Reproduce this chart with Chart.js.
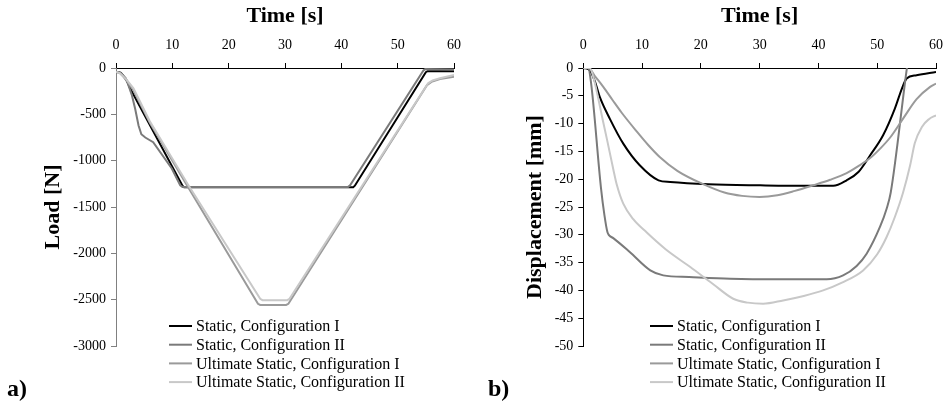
<!DOCTYPE html>
<html>
<head>
<meta charset="utf-8">
<script src="https://cdn.jsdelivr.net/npm/chart.js@4.4.1/dist/chart.umd.min.js"></script>
<style>
  body { margin: 0; background: #fff; }
  #wrap { position: relative; width: 943px; height: 403px; background: #fff; overflow: hidden; }
  .panel { position: absolute; top: 0; }
  .tag { position: absolute; font: bold 24px "Liberation Serif", "Times New Roman", serif; line-height: 24px; color: #000; }
</style>
</head>
<body>
<div id="wrap">
  <div class="panel" style="left:0"><canvas id="loadChart" width="470" height="403"></canvas></div>
  <div class="panel" style="left:470px"><canvas id="dispChart" width="473" height="403"></canvas></div>
  <div class="tag" style="left:7px; top:376px">a)</div>
  <div class="tag" style="left:488px; top:376px">b)</div>
</div>
<script>
// series names (same for both panels)
const seriesNames = [
  "Static, Configuration I",
  "Static, Configuration II",
  "Ultimate Static, Configuration I",
  "Ultimate Static, Configuration II"
];

// panel a) load [N] vs time [s]
const timeS1Load = [0, 0.8, 1.7, 2.6, 11.8, 12.1, 42.1, 42.4, 55.0, 55.3, 60];
const loadS1 = [-40, -50, -110, -230, -1270, -1288, -1288, -1270, -45, -35, -35];
const timeS2Load = [0, 1.0, 2.0, 2.8, 3.4, 4.0, 4.5, 5.2, 6.6, 9.9, 11.4, 11.8, 41.2, 41.5, 54.6, 54.9, 60];
const loadS2 = [-40, -60, -150, -290, -440, -620, -715, -750, -800, -1085, -1265, -1283, -1283, -1270, -25, -12, -15];
const timeU1Load = [0, 0.7, 1.8, 3.0, 6.0, 12.7, 25.2, 25.6, 30.2, 30.6, 55.2, 56.0, 57.5, 60];
const loadU1 = [-40, -55, -125, -230, -590, -1275, -2545, -2557, -2557, -2545, -185, -150, -120, -95];
const timeU2Load = [0, 0.7, 1.8, 3.1, 6.0, 12.8, 25.6, 26.0, 30.4, 30.8, 55.4, 56.2, 57.5, 60];
const loadU2 = [-40, -57, -120, -220, -575, -1260, -2490, -2505, -2505, -2490, -165, -135, -110, -75];

// panel b) displacement [mm] vs time [s]
const timeS1Disp = [0, 1.1, 2.0, 2.8, 4.5, 6.8, 9.6, 12.8, 14.8, 21.3, 30.1, 38, 42.5, 44.8, 46.8, 48.8, 51.0, 53.0, 54.2, 55.0, 56.7, 60];
const dispS1 = [0, -0.4, -2.5, -5.2, -9.1, -13.6, -17.5, -20.2, -20.5, -20.9, -21.1, -21.2, -21.2, -20.2, -18.7, -15.7, -12.1, -7.3, -3.7, -1.9, -1.3, -0.7];
const timeS2Disp = [0, 0.8, 1.3, 3.0, 3.6, 4.1, 4.4, 5.1, 7.9, 11.4, 13.6, 18, 25, 33, 41.4, 44.2, 46.5, 48.2, 50.5, 51.6, 52.3, 55.05, 55.4];
const dispS2 = [0, 0, -2.5, -21.5, -26.5, -29.5, -30.1, -30.6, -33.1, -36.4, -37.3, -37.6, -37.9, -38.0, -38.0, -37.3, -35.6, -33.4, -28.5, -25.3, -22.4, 0, 2.5];
const timeU1Disp = [0, 0.9, 2.0, 3.4, 5.0, 6.5, 9.0, 11.0, 13.0, 16.0, 20.4, 24.0, 27.0, 30.0, 33.0, 36.0, 39.1, 42.0, 44.8, 47.0, 48.8, 50.5, 52.2, 54.4, 56.7, 59.0, 60];
const dispU1 = [0, 0, -1.5, -3.4, -5.8, -8.0, -11.3, -13.8, -16.0, -18.5, -20.9, -22.4, -23.0, -23.2, -22.9, -22.1, -21.1, -20.1, -18.9, -17.5, -16.2, -14.5, -12.5, -9.1, -5.6, -3.4, -2.8];
const timeU2Disp = [0, 1.1, 1.8, 2.55, 3.3, 4.0, 5.1, 5.7, 6.8, 8.5, 10.8, 14.0, 18.2, 22.0, 25.5, 28.0, 30.6, 34.0, 37.5, 40.8, 44.0, 47.6, 50.0, 51.6, 53.0, 54.4, 55.6, 56.4, 57.6, 58.8, 60];
const dispU2 = [0, 0, -2.0, -5.5, -9.3, -12.7, -18.2, -21.0, -24.4, -27.2, -29.6, -32.6, -35.8, -38.8, -41.5, -42.2, -42.4, -41.8, -41.0, -40.0, -38.6, -36.4, -33.5, -30.4, -26.8, -22.4, -17.5, -13.5, -10.6, -9.2, -8.5];

const lineColors = ["#000000", "#7a7a7a", "#9a9a9a", "#c8c8c8"];
const serif = "'Liberation Serif', 'Times New Roman', serif";

Chart.defaults.font.family = serif;
Chart.defaults.color = "#000";

function toPoints(xs, ys) {
  return xs.map((x, i) => ({ x: x, y: ys[i] }));
}

function makeDatasets(pairs, smooth) {
  return pairs.map((p, i) => ({
    label: seriesNames[i],
    data: toPoints(p[0], p[1]),
    showLine: true,
    borderColor: lineColors[i],
    borderWidth: 2,
    pointRadius: 0,
    fill: false,
    tension: 0,
    cubicInterpolationMode: smooth ? "monotone" : "default",
    order: 4 - i // later series drawn on top, like the original
  }));
}

// legend drawn as short line samples with labels
const lineLegend = {
  id: "lineLegend",
  afterDraw(chart, args, opts) {
    const ctx = chart.ctx;
    ctx.save();
    ctx.font = "16px " + serif;
    ctx.textBaseline = "middle";
    ctx.textAlign = "left";
    chart.data.datasets.forEach((ds, i) => {
      const y = opts.y + i * opts.rowHeight;
      ctx.strokeStyle = ds.borderColor;
      ctx.lineWidth = 2;
      ctx.beginPath();
      ctx.moveTo(opts.x, y);
      ctx.lineTo(opts.x + 23, y);
      ctx.stroke();
      ctx.fillStyle = "#000";
      ctx.fillText(ds.label, opts.x + 27, y + 1);
    });
    ctx.restore();
  }
};

function makeOptions(cfg) {
  return {
    responsive: false,
    animation: false,
    devicePixelRatio: 1,
    layout: { padding: { left: cfg.padLeft, top: 0, right: cfg.padRight, bottom: 57 } },
    plugins: {
      legend: { display: false },
      tooltip: { enabled: false },
      lineLegend: { x: cfg.legendX, y: 326, rowHeight: 18.7 }
    },
    scales: {
      x: {
        type: "linear",
        position: "top",
        min: 0,
        max: 60,
        ticks: { stepSize: 10, padding: 9, font: { size: 14 }, color: "#000" },
        grid: { drawOnChartArea: false, drawTicks: true, tickLength: 5, color: "#000" },
        border: { color: "#000" },
        title: { display: true, text: "Time [s]", color: "#000", font: { size: 22, weight: "bold" }, padding: { top: 3, bottom: 0 } },
        afterFit: (s) => { s.height = 68; s.paddingLeft = 0; s.paddingRight = 0; }
      },
      y: {
        type: "linear",
        min: cfg.yMin,
        max: 0,
        ticks: {
          stepSize: cfg.yStep, padding: 5, font: { size: 14 }, color: "#000",
          callback: (v) => String(v)
        },
        grid: { drawOnChartArea: false, drawTicks: true, tickLength: 5, color: cfg.yAxisColor },
        border: { color: cfg.yAxisColor },
        title: { display: true, text: cfg.yTitle, color: "#000", font: { size: 22, weight: "bold" }, padding: { top: cfg.titlePad, bottom: 0 } },
        afterFit: (s) => { s.width = cfg.yWidth; s.paddingTop = 0; s.paddingBottom = 0; }
      }
    }
  };
}

new Chart(document.getElementById("loadChart"), {
  type: "scatter",
  data: {
    datasets: makeDatasets([
      [timeS1Load, loadS1],
      [timeS2Load, loadS2],
      [timeU1Load, loadU1],
      [timeU2Load, loadU2]
    ], false)
  },
  options: makeOptions({
    padLeft: 30, padRight: 16, yWidth: 86, titlePad: 10,
    yMin: -3000, yStep: 500, yTitle: "Load [N]", yAxisColor: "#808080",
    legendX: 169
  }),
  plugins: [lineLegend]
});

new Chart(document.getElementById("dispChart"), {
  type: "scatter",
  data: {
    datasets: makeDatasets([
      [timeS1Disp, dispS1],
      [timeS2Disp, dispS2],
      [timeU1Disp, dispU1],
      [timeU2Disp, dispU2]
    ], true)
  },
  options: makeOptions({
    padLeft: 40, padRight: 7, yWidth: 73.3, titlePad: 12,
    yMin: -50, yStep: 5, yTitle: "Displacement [mm]", yAxisColor: "#000",
    legendX: 180
  }),
  plugins: [lineLegend]
});
</script>
</body>
</html>
